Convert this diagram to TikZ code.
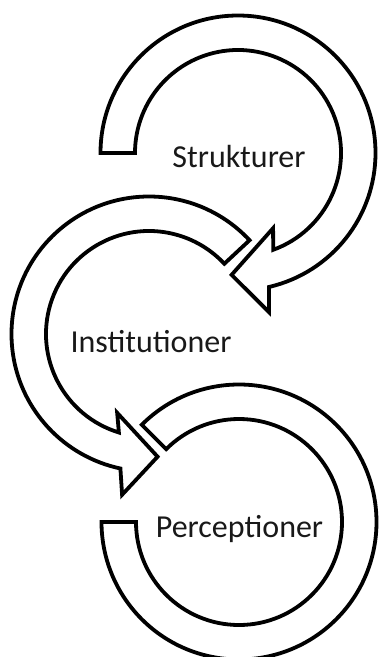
\documentclass[tikz,border=0pt]{standalone}
\usepackage{fontspec}
\setmainfont{Carlito}
\newcommand{\ro}{137.5pt}
\newcommand{\ri}{103pt}
\begin{document}
\begin{tikzpicture}[x=1pt, y=1pt,
                band/.style={draw=black, line width=3.8pt, line join=miter, fill=white},
                lbl/.style={anchor=base, font=\fontsize{32}{38}\selectfont, inner sep=0pt, text=black!90}]
                \useasboundingbox (0, 0) rectangle (380, -657);
                \begin{scope}[shift={(238, -153)}]
                    \draw[band] (180:\ro) arc[start angle=180, end angle=-77, radius=\ro]
                        -- (-79:162pt) -- (-93:122pt) -- (-65:83pt) -- (-70:\ri)
                        arc[start angle=-70, end angle=180, radius=\ri] -- cycle;
                \end{scope}
                \begin{scope}[shift={(149, -334)}]
                    \draw[band] (43:\ro) arc[start angle=43, end angle=258, radius=\ro]
                        -- (260.5:163pt) -- (274:123pt) -- (248:85pt) -- (253:\ri)
                        arc[start angle=253, end angle=43, radius=\ri] -- cycle;
                \end{scope}
                \begin{scope}[shift={(239, -522)}]
                    \draw[band] (135:\ro) arc[start angle=135, end angle=-180, radius=\ro]
                        -- (180:\ri) arc[start angle=-180, end angle=135, radius=\ri] -- cycle;
                \end{scope}
                \node[lbl] (strukturer) at (239, -167) {Strukturer};
                \node[lbl] (institutioner) at (151, -352) {Institutioner};
                \node[lbl] (perceptioner) at (239.5, -537) {Perceptioner};
            \end{tikzpicture}
\end{document}
